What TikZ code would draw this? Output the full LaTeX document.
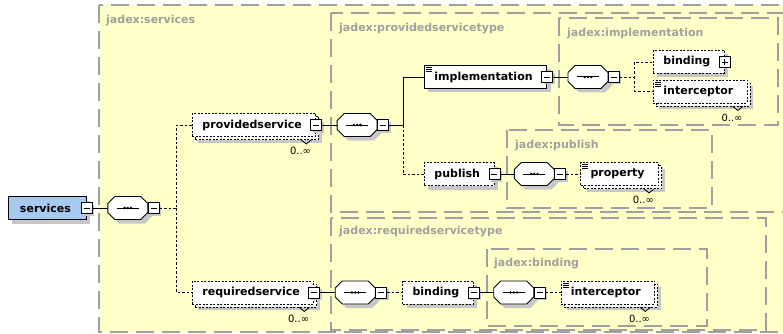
\documentclass[tikz,border=0pt]{standalone}
\usepackage{fontspec}
\setmainfont{DejaVu Sans}
\usetikzlibrary{shapes, positioning, shadows}

\definecolor{schemayellow}{RGB}{255,255,200}
\definecolor{typegray}{RGB}{160,160,160}
\definecolor{rootblue}{RGB}{166,202,240}

% octagon of a sequence compositor
\makeatletter
\pgfdeclareshape{seqbox}{
	\inheritsavedanchors[from=rectangle]
	\inheritanchorborder[from=rectangle]
	\inheritanchor[from=rectangle]{center}
	\inheritanchor[from=rectangle]{north}
	\inheritanchor[from=rectangle]{south}
	\inheritanchor[from=rectangle]{west}
	\inheritanchor[from=rectangle]{east}
	\backgroundpath{
		\southwest \edef\sqx{\the\pgf@x}\edef\sqy{\the\pgf@y}
		\northeast \edef\sqX{\the\pgf@x}\edef\sqY{\the\pgf@y}
		\pgfpathmoveto{\pgfpoint{\sqx}{\sqy+7pt}}
		\pgfpathlineto{\pgfpoint{\sqx}{\sqY-7pt}}
		\pgfpathlineto{\pgfpoint{\sqx+7pt}{\sqY}}
		\pgfpathlineto{\pgfpoint{\sqX-7pt}{\sqY}}
		\pgfpathlineto{\pgfpoint{\sqX}{\sqY-7pt}}
		\pgfpathlineto{\pgfpoint{\sqX}{\sqy+7pt}}
		\pgfpathlineto{\pgfpoint{\sqX-7pt}{\sqy}}
		\pgfpathlineto{\pgfpoint{\sqx+7pt}{\sqy}}
		\pgfpathclose
	}
}
\makeatother

\tikzset{
	typebox/.style={draw=typegray, fill=schemayellow, line width=1.4pt, dash pattern=on 18pt off 8pt},
	typename/.style={anchor=west, text=typegray, font=\bfseries\fontsize{11}{13}\selectfont, inner sep=0pt},
	elem/.style={draw, fill=white, anchor=west, line width=0.9pt, minimum height=23pt, inner xsep=10pt, inner ysep=0pt,
		font=\bfseries\fontsize{11}{13}\selectfont, execute at end node={\hspace{4pt}},
		general shadow={fill=black!22, shadow xshift=4pt, shadow yshift=-4pt}},
	opt/.style={dash pattern=on 2pt off 1.5pt},
	multi/.style={general shadow={fill=black!22, shadow xshift=6pt, shadow yshift=-6pt},
		general shadow={draw=black, fill=white, line width=0.9pt, dash pattern=on 2pt off 1.5pt, shadow xshift=3pt, shadow yshift=-3pt}},
	mbox/.style={draw, fill=white, line width=0.8pt, minimum size=11pt, inner sep=0pt,
		general shadow={fill=black!22, shadow xshift=2pt, shadow yshift=-2pt},
		path picture={\draw ([xshift=2.5pt]path picture bounding box.west) -- ([xshift=-2.5pt]path picture bounding box.east);}},
	pbox/.style={draw, fill=white, line width=0.8pt, minimum size=11pt, inner sep=0pt,
		path picture={\draw ([xshift=2.5pt]path picture bounding box.west) -- ([xshift=-2.5pt]path picture bounding box.east);
			\draw ([yshift=-2.5pt]path picture bounding box.north) -- ([yshift=2.5pt]path picture bounding box.south);}},
	seq/.style={seqbox, draw, fill=white, line width=0.9pt, minimum width=40pt, minimum height=23pt,
		inner sep=0pt, outer sep=0pt,
		general shadow={fill=black!22, shadow xshift=4pt, shadow yshift=-4pt},
		path picture={\draw[line width=1pt] ([xshift=9pt]path picture bounding box.west) -- ([xshift=-9pt]path picture bounding box.east);
			\foreach \d in {-3.2,0,3.2} \fill[black] ([xshift=\d pt]path picture bounding box.center) circle (1.4pt);}},
	cnt/.style={anchor=north east, font=\fontsize{10}{12}\selectfont, inner sep=0pt},
	conn/.style={line width=0.9pt},
	optconn/.style={conn, dash pattern=on 2.5pt off 2pt}
}

\begin{document}
\begin{tikzpicture}[x=1pt, y=-1pt]
	\useasboundingbox (0,0) rectangle (783,334);
	\fill[white] (0,0) rectangle (783,334);
	\clip (0,0) rectangle (783,334);

	% type boxes
	\draw[typebox] (99,5) rectangle (840,332);
	\draw[typebox] (331,13) rectangle (840,212);
	\draw[typebox] (559,18) rectangle (778,125);
	\draw[typebox] (507,130) rectangle (712,208);
	\draw[typebox] (331,218) rectangle (766,330);
	\draw[typebox] (487,249) rectangle (707,326);
	\node[typename] (t-services) at (106,21) {jadex:services};
	\node[typename] (t-provided) at (339,29) {jadex:providedservicetype};
	\node[typename] (t-impl) at (567,34) {jadex:implementation};
	\node[typename] (t-publish) at (515,146) {jadex:publish};
	\node[typename] (t-required) at (339,232) {jadex:requiredservicetype};
	\node[typename] (t-binding) at (494,264) {jadex:binding};

	% elements
	\node[elem, fill=rootblue, minimum width=78pt] (services) at (8,208) {services};
	\node[mbox] (services-m) at (services.east) {};
	\node[seq, right=15pt of services-m] (seq1) {};
	\node[mbox, anchor=west] (seq1-m) at (seq1.east) {};

	\node[elem, opt, multi] (prov) at (192,125) {providedservice};
	\node[mbox] (prov-m) at (prov.east) {};
	\node[seq, right=15pt of prov-m] (seq2) {};
	\node[mbox, anchor=west] (seq2-m) at (seq2.east) {};

	\node[elem] (impl) at (424,77) {implementation};
	\node[mbox] (impl-m) at (impl.east) {};
	\node[seq, right=15pt of impl-m] (seq3) {};
	\node[mbox, anchor=west] (seq3-m) at (seq3.east) {};
	\node[elem, opt] (bind) at (653,62) {binding};
	\node[pbox] (bind-p) at (bind.east) {};
	\node[elem, opt, multi] (icpt) at (653,91.5) {interceptor};

	\node[elem, opt] (pub) at (424,174) {publish};
	\node[mbox] (pub-m) at (pub.east) {};
	\node[seq, right=14pt of pub-m] (seq4) {};
	\node[mbox, anchor=west] (seq4-m) at (seq4.east) {};
	\node[elem, opt, multi, right=14pt of seq4-m] (prop) {property};

	\node[elem, opt, multi] (req) at (192,292.5) {requiredservice};
	\node[mbox] (req-m) at (req.east) {};
	\node[seq, right=15pt of req-m] (seq5) {};
	\node[mbox, anchor=west] (seq5-m) at (seq5.east) {};
	\node[elem, opt, right=15pt of seq5-m] (bindb) {binding};
	\node[mbox] (bindb-m) at (bindb.east) {};
	\node[seq, right=14pt of bindb-m] (seq6) {};
	\node[mbox, anchor=west] (seq6-m) at (seq6.east) {};
	\node[elem, opt, multi, right=15pt of seq6-m] (icptb) {interceptor};

	% text content marks and occurrences
	\foreach \n in {impl,icpt,prop,icptb}
		\foreach \k in {2.5,4.5,6.5}
			\draw[line width=0.6pt] ([xshift=2pt,yshift=-\k pt]\n.north west) -- ++(6pt,0);
	\foreach \n in {prov,icpt,prop,req,icptb} {
		\draw[line width=0.8pt] ([xshift=-15pt,yshift=-3pt]\n.south east) -- ++(5pt,-4pt) -- ++(5pt,4pt);
		\node[cnt] (\n-cnt) at ([xshift=-5pt,yshift=-10pt]\n.south east) {0..∞};
	}

	% connectors
	\draw[conn] (services-m) -- (seq1);
	\coordinate (b1) at ([xshift=17pt]seq1-m.east);
	\draw[optconn] (seq1-m) -- (b1) |- (prov.west);
	\draw[optconn] (b1) |- (req.west);

	\draw[conn] (prov-m) -- (seq2);
	\coordinate (b2) at ([xshift=14pt]seq2-m.east);
	\draw[conn] (seq2-m) -- (b2) |- (impl.west);
	\draw[optconn] (b2) |- (pub.west);

	\draw[conn] (impl-m) -- (seq3);
	\coordinate (b3) at ([xshift=15pt]seq3-m.east);
	\draw[optconn] (seq3-m) -- (b3) |- (bind.west);
	\draw[optconn] (b3) |- (icpt.west);

	\draw[conn] (pub-m) -- (seq4);
	\draw[optconn] (seq4-m) -- (prop);

	\draw[conn] (req-m) -- (seq5);
	\draw[optconn] (seq5-m) -- (bindb);
	\draw[conn] (bindb-m) -- (seq6);
	\draw[optconn] (seq6-m) -- (icptb);
\end{tikzpicture}
\end{document}
